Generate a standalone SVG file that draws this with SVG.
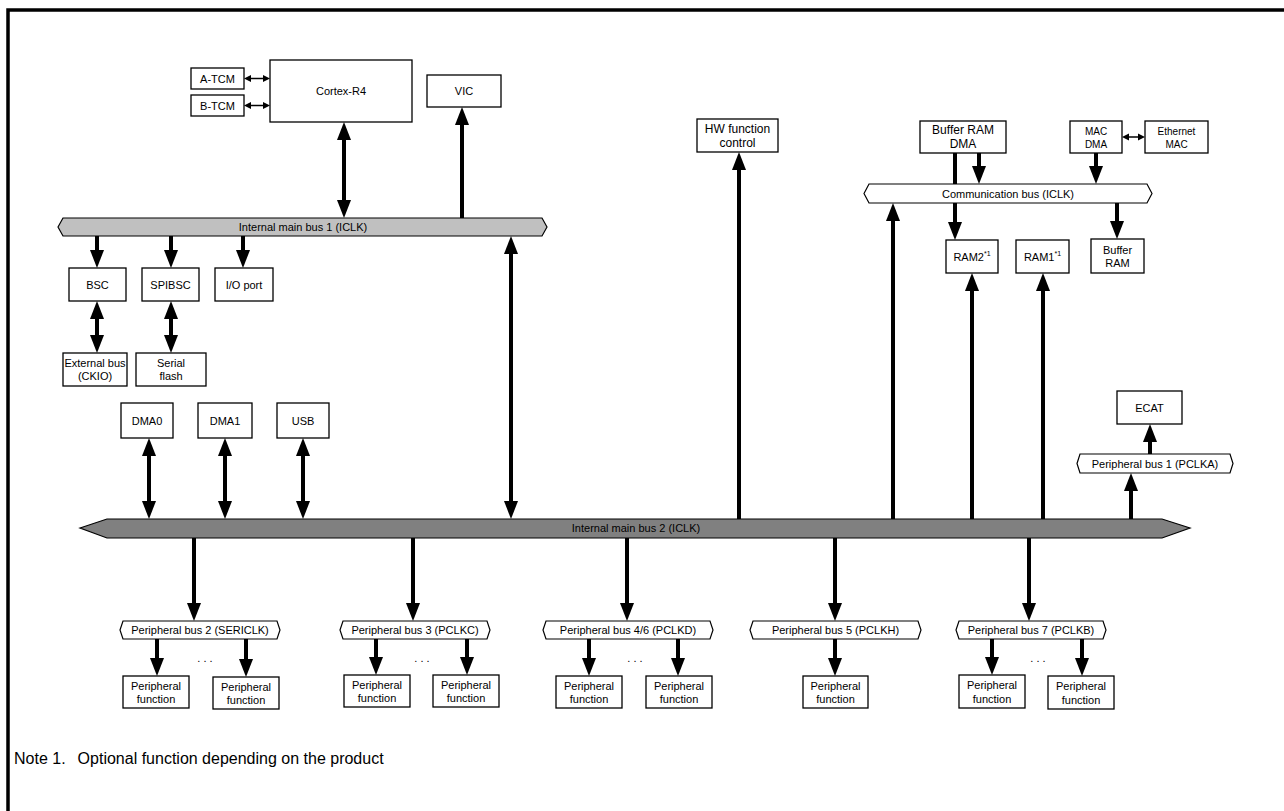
<svg xmlns="http://www.w3.org/2000/svg" width="1284" height="811" viewBox="0 0 1284 811">
  <style>
    text { font-family: "Liberation Sans", Arial, sans-serif; font-size: 11px; fill: #000; text-anchor: middle; dominant-baseline: central; }
    .box { fill: #fff; stroke: #000; stroke-width: 1.3; }
    .bus { stroke: #000; stroke-width: 1.2; }
    .pbus { fill: #fff; stroke: #000; stroke-width: 1.2; }
    .thick { stroke: #000; stroke-width: 4; fill: none; }
    .thin { stroke: #000; stroke-width: 1.5; fill: none; }
    .big { font-size: 12px; }
    .small { font-size: 10px; }
    .note { font-size: 16px; text-anchor: start; dominant-baseline: alphabetic; }
  </style>
  <defs>
    <marker id="ah" markerWidth="18" markerHeight="14" refX="0" refY="7" orient="auto-start-reverse" markerUnits="userSpaceOnUse" overflow="visible">
      <path d="M0,0 L18,7 L0,14 z" fill="#000"/>
    </marker>
    <marker id="sh" markerWidth="7" markerHeight="7" refX="0" refY="3.5" orient="auto-start-reverse" markerUnits="userSpaceOnUse" overflow="visible">
      <path d="M0,0 L7,3.5 L0,7 z" fill="#000"/>
    </marker>
  </defs>

  <rect width="1284" height="811" fill="#fff"/>
  <!-- frame -->
  <path d="M8,811 V10 H1284" fill="none" stroke="#000" stroke-width="3.5"/>

  <!-- buses -->
  <g id="bus1">
    <polygon class="bus" fill="#c0c0c0" points="58,227 63,218 542,218 547,227 542,236 63,236"/>
    <text x="303" y="227">Internal main bus 1 (ICLK)</text>
  </g>
  <g id="bus2">
    <polygon class="bus" fill="#808080" points="80,528 107,519 1162,519 1190,528 1162,538 107,538"/>
    <text x="636" y="528">Internal main bus 2 (ICLK)</text>
  </g>
  <g id="commbus">
    <polygon class="pbus" points="864,193.5 869,184 1147,184 1152,193.5 1147,203 869,203"/>
    <text x="1008" y="193.5">Communication bus (ICLK)</text>
  </g>
  <g id="pbus1">
    <polygon class="pbus" points="1077,463.5 1080,454 1230,454 1233,463.5 1230,473 1080,473"/>
    <text x="1155" y="463.5">Peripheral bus 1 (PCLKA)</text>
  </g>
  <g id="pbus2">
    <polygon class="pbus" points="120,630 123,621 277,621 280,630 277,639 123,639"/>
    <text x="200" y="630">Peripheral bus 2 (SERICLK)</text>
  </g>
  <g id="pbus3">
    <polygon class="pbus" points="340,630 343,621 487,621 490,630 487,639 343,639"/>
    <text x="415" y="630">Peripheral bus 3 (PCLKC)</text>
  </g>
  <g id="pbus46">
    <polygon class="pbus" points="543,630 546,621 710,621 713,630 710,639 546,639"/>
    <text x="628" y="630">Peripheral bus 4/6 (PCLKD)</text>
  </g>
  <g id="pbus5">
    <polygon class="pbus" points="750,630 753,621 918,621 921,630 918,639 753,639"/>
    <text x="835.5" y="630">Peripheral bus 5 (PCLKH)</text>
  </g>
  <g id="pbus7">
    <polygon class="pbus" points="956,630 959,621 1103,621 1106,630 1103,639 959,639"/>
    <text x="1031" y="630">Peripheral bus 7 (PCLKB)</text>
  </g>

  <!-- CPU side -->
  <g id="atcm"><rect class="box" x="191" y="68" width="53" height="21"/><text x="217.5" y="78.5">A-TCM</text></g>
  <g id="btcm"><rect class="box" x="191" y="95" width="53" height="21"/><text x="217.5" y="105.5">B-TCM</text></g>
  <g id="cortex"><rect class="box" x="270" y="60" width="142" height="62"/><text x="341" y="91">Cortex-R4</text></g>
  <g id="vic"><rect class="box" x="427" y="75" width="74" height="32"/><text x="464" y="91">VIC</text></g>
  <g id="bsc"><rect class="box" x="69" y="268" width="57" height="33"/><text x="97.5" y="284.5">BSC</text></g>
  <g id="spibsc"><rect class="box" x="142" y="268" width="57" height="33"/><text x="170.5" y="284.5">SPIBSC</text></g>
  <g id="ioport"><rect class="box" x="215" y="268" width="58" height="33"/><text x="244" y="284.5">I/O port</text></g>
  <g id="extbus"><rect class="box" x="63" y="353" width="64" height="33"/><text x="95" y="363">External bus</text><text x="95" y="376">(CKIO)</text></g>
  <g id="sflash"><rect class="box" x="136" y="353" width="70" height="33"/><text x="171" y="363">Serial</text><text x="171" y="376">flash</text></g>
  <g id="dma0"><rect class="box" x="121" y="403" width="52" height="35"/><text x="147" y="420.5">DMA0</text></g>
  <g id="dma1"><rect class="box" x="198" y="403" width="54" height="35"/><text x="225" y="420.5">DMA1</text></g>
  <g id="usb"><rect class="box" x="277" y="403" width="52" height="35"/><text x="303" y="420.5">USB</text></g>

  <!-- right side -->
  <g id="hwctrl"><rect class="box" x="697" y="119" width="81" height="33"/><text class="big" x="737.5" y="129">HW function</text><text class="big" x="737.5" y="143">control</text></g>
  <g id="bufdma"><rect class="box" x="920" y="121" width="86" height="32"/><text class="big" x="963" y="130">Buffer RAM</text><text class="big" x="963" y="144">DMA</text></g>
  <g id="macdma"><rect class="box" x="1070" y="121" width="52" height="32"/><text class="small" x="1096" y="131">MAC</text><text class="small" x="1096" y="144">DMA</text></g>
  <g id="ethmac"><rect class="box" x="1145" y="121" width="63" height="32"/><text class="small" x="1176.5" y="131">Ethernet</text><text class="small" x="1176.5" y="144">MAC</text></g>
  <g id="ram2"><rect class="box" x="946" y="240" width="52" height="33"/><text x="972" y="256.5">RAM2<tspan font-size="7" dy="-4">*1</tspan></text></g>
  <g id="ram1"><rect class="box" x="1016" y="240" width="53" height="33"/><text x="1042.5" y="256.5">RAM1<tspan font-size="7" dy="-4">*1</tspan></text></g>
  <g id="bufram"><rect class="box" x="1091" y="239" width="53" height="34"/><text x="1117.5" y="249.5">Buffer</text><text x="1117.5" y="263">RAM</text></g>
  <g id="ecat"><rect class="box" x="1117" y="391" width="65" height="33"/><text x="1149.5" y="407.5">ECAT</text></g>

  <!-- peripheral functions -->
  <g id="pf2a"><rect class="box" x="123" y="676" width="66" height="32"/><text x="156" y="685.5">Peripheral</text><text x="156" y="699">function</text></g>
  <g id="pf2b"><rect class="box" x="213" y="677" width="66" height="32"/><text x="246" y="686.5">Peripheral</text><text x="246" y="700">function</text></g>
  <g id="pf3a"><rect class="box" x="344" y="675" width="66" height="32"/><text x="377" y="684.5">Peripheral</text><text x="377" y="698">function</text></g>
  <g id="pf3b"><rect class="box" x="433" y="675" width="66" height="32"/><text x="466" y="684.5">Peripheral</text><text x="466" y="698">function</text></g>
  <g id="pf46a"><rect class="box" x="556" y="676" width="66" height="32"/><text x="589" y="685.5">Peripheral</text><text x="589" y="699">function</text></g>
  <g id="pf46b"><rect class="box" x="646" y="676" width="66" height="32"/><text x="679" y="685.5">Peripheral</text><text x="679" y="699">function</text></g>
  <g id="pf5"><rect class="box" x="803" y="676" width="65" height="32"/><text x="835.5" y="685.5">Peripheral</text><text x="835.5" y="699">function</text></g>
  <g id="pf7a"><rect class="box" x="959" y="675" width="66" height="33"/><text x="992" y="685">Peripheral</text><text x="992" y="698.5">function</text></g>
  <g id="pf7b"><rect class="box" x="1048" y="676" width="66" height="33"/><text x="1081" y="686">Peripheral</text><text x="1081" y="699.5">function</text></g>

  <!-- elided peripheral functions -->
  <g id="ellipses">
    <text x="205" y="658">. . .</text>
    <text x="422" y="658">. . .</text>
    <text x="635" y="658">. . .</text>
    <text x="1038" y="658">. . .</text>
  </g>

  <!-- connectors -->
  <g id="connectors">
    <line class="thin" x1="251" y1="78.5" x2="263" y2="78.5" marker-start="url(#sh)" marker-end="url(#sh)"/>
    <line class="thin" x1="251" y1="105.5" x2="263" y2="105.5" marker-start="url(#sh)" marker-end="url(#sh)"/>
    <line class="thin" x1="1129" y1="137" x2="1138" y2="137" marker-start="url(#sh)" marker-end="url(#sh)"/>

    <line class="thick" x1="344" y1="140" x2="344" y2="200" marker-start="url(#ah)" marker-end="url(#ah)"/>
    <line class="thick" x1="462" y1="218" x2="462" y2="125" marker-end="url(#ah)"/>
    <line class="thick" x1="97" y1="236" x2="97" y2="250" marker-end="url(#ah)"/>
    <line class="thick" x1="171" y1="236" x2="171" y2="250" marker-end="url(#ah)"/>
    <line class="thick" x1="243" y1="236" x2="243" y2="250" marker-end="url(#ah)"/>
    <line class="thick" x1="97" y1="319" x2="97" y2="335" marker-start="url(#ah)" marker-end="url(#ah)"/>
    <line class="thick" x1="171" y1="319" x2="171" y2="335" marker-start="url(#ah)" marker-end="url(#ah)"/>
    <line class="thick" x1="511" y1="254" x2="511" y2="501" marker-start="url(#ah)" marker-end="url(#ah)"/>
    <line class="thick" x1="149" y1="456" x2="149" y2="501" marker-start="url(#ah)" marker-end="url(#ah)"/>
    <line class="thick" x1="225" y1="456" x2="225" y2="501" marker-start="url(#ah)" marker-end="url(#ah)"/>
    <line class="thick" x1="303" y1="456" x2="303" y2="501" marker-start="url(#ah)" marker-end="url(#ah)"/>

    <line class="thick" x1="739" y1="519" x2="739" y2="170" marker-end="url(#ah)"/>
    <line class="thick" x1="893" y1="519" x2="893" y2="221" marker-end="url(#ah)"/>
    <line class="thick" x1="955" y1="153" x2="955" y2="184"/>
    <line class="thick" x1="979" y1="153" x2="979" y2="166" marker-end="url(#ah)"/>
    <line class="thick" x1="1096" y1="153" x2="1096" y2="166" marker-end="url(#ah)"/>
    <line class="thick" x1="955" y1="203" x2="955" y2="222" marker-end="url(#ah)"/>
    <line class="thick" x1="1117" y1="203" x2="1117" y2="221" marker-end="url(#ah)"/>
    <line class="thick" x1="972" y1="519" x2="972" y2="291" marker-end="url(#ah)"/>
    <line class="thick" x1="1043" y1="519" x2="1043" y2="291" marker-end="url(#ah)"/>
    <line class="thick" x1="1131" y1="519" x2="1131" y2="491" marker-end="url(#ah)"/>
    <line class="thick" x1="1150" y1="454" x2="1150" y2="442" marker-end="url(#ah)"/>

    <line class="thick" x1="194" y1="538" x2="194" y2="603" marker-end="url(#ah)"/>
    <line class="thick" x1="413" y1="538" x2="413" y2="603" marker-end="url(#ah)"/>
    <line class="thick" x1="627" y1="538" x2="627" y2="603" marker-end="url(#ah)"/>
    <line class="thick" x1="835" y1="538" x2="835" y2="603" marker-end="url(#ah)"/>
    <line class="thick" x1="1029" y1="538" x2="1029" y2="603" marker-end="url(#ah)"/>

    <line class="thick" x1="157" y1="639" x2="157" y2="658" marker-end="url(#ah)"/>
    <line class="thick" x1="246" y1="639" x2="246" y2="659" marker-end="url(#ah)"/>
    <line class="thick" x1="376" y1="639" x2="376" y2="657" marker-end="url(#ah)"/>
    <line class="thick" x1="467" y1="639" x2="467" y2="657" marker-end="url(#ah)"/>
    <line class="thick" x1="589" y1="639" x2="589" y2="658" marker-end="url(#ah)"/>
    <line class="thick" x1="678" y1="639" x2="678" y2="658" marker-end="url(#ah)"/>
    <line class="thick" x1="835" y1="639" x2="835" y2="658" marker-end="url(#ah)"/>
    <line class="thick" x1="992" y1="639" x2="992" y2="657" marker-end="url(#ah)"/>
    <line class="thick" x1="1082" y1="639" x2="1082" y2="658" marker-end="url(#ah)"/>
  </g>

  <text class="note" x="14" y="764">Note 1.<tspan dx="12">Optional function depending on the product</tspan></text>
</svg>
